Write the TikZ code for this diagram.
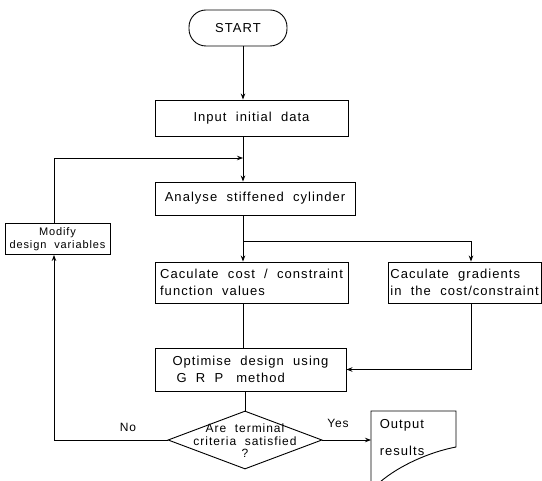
\documentclass[tikz,border=0pt]{standalone}
\usepackage{fontspec}
\setmainfont{Liberation Sans}[LetterSpace=8, WordSpace=2]
\usetikzlibrary{shapes.geometric, arrows.meta}
\begin{document}
\begin{tikzpicture}[x=1pt, y=-1pt, line width=0.9pt,
  every node/.style={font=\fontsize{13}{17}\selectfont},
  box/.style={draw, rectangle, inner xsep=2pt, inner ysep=0pt, align=left},
  arr/.style={-{Stealth[length=6pt,width=4.5pt]}}]
\useasboundingbox (0,0) rectangle (542,481);

\node[box, rounded corners=17pt, minimum width=98pt, minimum height=36pt, align=center] (start) at (238,28) {START};
\node[box, minimum width=193pt, minimum height=36pt, align=center] (input) at (251.5,118) {Input initial data};
\node[box, minimum width=200pt, minimum height=33pt] (analyse) at (255,198.5) {Analyse stiffened cylinder};
\node[box, minimum width=193pt, minimum height=41pt] (calc) at (251.5,282.5) {Caculate cost / constraint\\function values};
\node[box, minimum width=153pt, minimum height=41pt] (grad) at (464.5,282.5) {Caculate gradients\\in the cost/constraint};
\node[box, minimum width=105pt, minimum height=31pt, align=center, font=\fontsize{11}{12.5}\selectfont] (modify) at (57.5,239) {Modify\\design variables};
\node[box, minimum width=191pt, minimum height=43pt] (optim) at (250.5,369.5) {Optimise design using\\\hspace{4pt}G R P\quad method};
\node[draw, diamond, minimum width=154pt, minimum height=58pt, inner sep=0pt] (dec) at (245,440) {};
\node[font=\fontsize{12}{12.5}\selectfont, align=center] (dectext) at (245,441) {Are terminal\\criteria satisfied\\?};

\coordinate (j1) at (243,158);
\coordinate (j2) at (243,241);
\coordinate (gx) at (471,241);
\coordinate (lc) at (54,440);
\coordinate (outl) at (371,440);

% output document shape
\draw (371,482) -- (371,411) -- (456,411) -- (456,447) .. controls (430,452) and (400,465) .. (380,482);
\node[anchor=west] (out1) at (376,425) {Output};
\node[anchor=west] (out2) at (376,451) {results};

\node[font=\fontsize{12}{14}\selectfont] (nolab) at (128,427) {No};
\node[font=\fontsize{12}{14}\selectfont] (yeslab) at (338,423) {Yes};

\draw[arr] (start.south -| j1) -- (input.north -| j1);
\draw (input.south -| j1) -- (j1);
\draw[arr] (j1) -- (analyse.north -| j1);
\draw[arr] (modify.north -| lc) -- (lc |- j1) -- (j1);
\draw (analyse.south -| j2) -- (j2);
\draw[arr] (j2) -- (calc.north -| j2);
\draw[arr] (j2) -- (gx) -- (grad.north -| gx);
\draw (calc.south -| j2) -- (optim.north -| j2);
\draw[arr] (grad.south -| gx) |- (optim.east);
\draw (optim.south -| dec.north) -- (dec.north);
\draw[arr] (dec.west) -- (lc) -- (modify.south -| lc);
\draw[arr] (dec.east) -- (outl);
\end{tikzpicture}
\end{document}
